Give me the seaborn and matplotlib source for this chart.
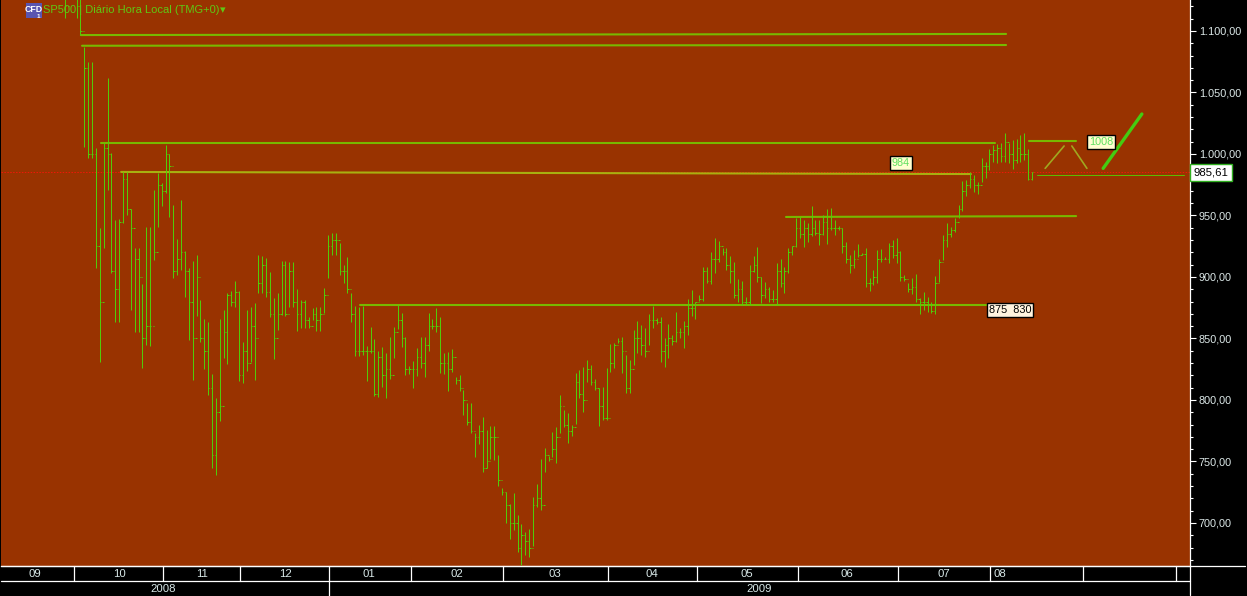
import matplotlib
matplotlib.use("Agg")
import matplotlib.pyplot as plt
from matplotlib.patches import Rectangle
from matplotlib.ticker import FixedLocator, FuncFormatter
import numpy as np
import pandas as pd
import seaborn as sns

highs = [
    1145,1150,1150,1140,1130,1087,1074.8,1074.8,1004.9,939.8,
    1008.9,1061.8,1000.8,946.3,947.2,985.4,985.4,955.3,923.6,923.6,
    894.3,940.7,940.7,970.7,984.6,976.4,1007.3,1000,958.5,930.9,
    962.6,921.1,907.3,913,917.9,881.3,865.9,863.4,821.1,801.6,
    865.9,873.2,887,888.6,896.7,888.6,847.2,873.2,875.6,878.9,
    917.9,917.1,915.4,904.1,882.9,887,913,913,912.2,912.2,
    890.2,881.3,881.3,867.5,874.8,875.6,875.6,891,934.1,935.8,
    935.8,927.6,909.8,916.3,887,876.4,875.6,876.4,843.9,859.4,
    849.6,839.8,843,838.2,851.2,859.4,877.2,870.7,851.2,827.6,
    831.7,842.3,851.2,851.2,870.7,865.9,874.8,867.5,838.2,839,
    841.5,818.7,820.3,808.1,797.6,797.6,773.2,779.7,786.2,775.6,
    778.9,778.9,755.3,728.5,725.2,715.5,724.4,706.5,699.2,692.7,
    695.1,721.1,731.7,752,761,754.5,774,778,804.1,791.9,
    789.4,779.7,821.9,824.4,826.8,832.5,828.5,817.1,809.8,810.6,
    826,845.5,846.3,850.4,851.2,836.6,832.5,856.9,864.2,861,
    858.5,869.9,876.4,866.7,867.5,850.4,861.8,852.8,871.5,858.5,
    864.2,882.1,889.4,879.7,885.4,908.1,908.1,920.3,931.7,929.3,
    923.6,923.6,917.1,912.2,898.4,896.7,883.7,909.8,917.1,924.4,
    900,895.9,891.9,889.4,911.4,914.6,908.1,923.6,925.2,948,
    948.8,946.3,943.9,957.7,946.3,946.3,950.4,955.3,956.1,946.3,
    941.5,939.8,928.5,917.9,922,926.8,919.5,923.6,899.2,905.7,
    922,922.8,916.3,927.6,930.1,931.7,921.1,901.6,895.1,899.2,
    902.4,882.9,887.8,883.7,879.7,900.8,914.6,934.1,943.9,940.7,
    948,958.5,978,978.9,985.4,982.9,977.2,996.7,993.5,1004.1,
    1007.3,1008.1,1008.9,1017.1,1008.9,1011.4,1012.2,1015.4,1017.1,1004.1,
    985.4,
]
lows = [
    1110.6,1135,1135,1110.6,1096.7,1005.7,996.7,996.7,907.3,830.9,
    923.6,970.7,903.3,863.4,863.4,943.9,950.4,873.2,855.3,855.3,
    826,844.7,843.9,913.8,940.7,957.7,968.3,948.8,899.2,901.6,
    905.7,883.7,848.8,816.3,868.3,847.2,825.2,804.1,744.7,739,
    782.9,834.1,829.3,876.4,875.6,815.4,813.8,823.6,830.9,816.3,
    887,887,883.7,867.5,833.3,856.9,869.1,868.3,875.6,875.6,
    856.1,858.5,858.5,858.5,865,856.1,856.1,870.7,899.2,917.9,
    917.9,901.6,895.1,887,863.4,835.8,835.8,836.6,815.4,838.2,
    803.3,802.4,810.6,801.6,817.1,834.1,857.7,843,820.3,821.1,
    809.8,819.5,826,818.7,839.8,857.7,855.3,822,821.1,807.3,
    822.8,813,807.3,787.8,779.7,773.2,753.7,764.2,741.5,744.7,
    752,751.2,730.1,722.8,700,687,694.3,676.4,665.9,674,
    672.4,681.3,713,710.6,741.5,750.4,753.7,748.8,773.2,778,
    765,770.7,780.5,801.6,790.2,814.6,812.2,808.1,778.9,783.7,
    783.7,822.8,826,846.3,822,805.7,805.7,828.5,838.2,836.6,
    835,844.7,858.5,861.8,830.9,826.8,834.1,844.7,847.2,850.4,
    842.3,852.8,868.3,865.9,880.5,880.5,895.1,894.3,903.3,912.2,
    917.9,905.7,895.1,882.9,879.7,877.2,877.2,877.2,904.1,895.9,
    878.9,882.9,879.7,879.7,877.2,891.9,887,903.3,917.9,924.4,
    931.7,924.4,928.5,933.3,934.1,926,934.1,926.8,938.2,934.1,
    938.2,919.5,911.4,903.3,907.3,916.3,917.9,891.9,888.6,893.5,
    895.1,912.2,914.6,911.4,915.4,911.4,896.7,896.7,887.8,886.2,
    879.7,869.9,873.2,871.5,870.7,869.9,895.9,913.8,924.4,932.5,
    936.6,948,953.7,965.9,972.4,969.1,967.5,977.2,980.5,987,
    993.5,992.7,993.5,993.5,992.7,987.8,992.7,993.5,995.1,978.9,
    978.9,
]
closes = [
    1120,1140,1140,1120,1100,1070,1000,1000,925,880,
    1005,1000,905,890,945,980,955,940,915,900,
    850,860,860,920,975,970,1000,990,905,915,
    920,905,880,850,900,850,840,810,755,790,
    795,855,885,880,888,820,840,830,860,850,
    895,910,888,870,850,870,910,870,905,880,
    870,880,865,860,870,865,870,885,925,930,
    930,905,905,890,870,840,840,840,840,840,
    805,835,820,825,820,855,865,850,825,825,
    825,835,830,845,860,860,860,830,830,825,
    835,816,810,800,782,775,770,775,745,750,
    770,770,735,725,715,700,700,680,690,685,
    680,715,720,715,755,752,760,770,795,780,
    775,778,815,805,800,825,815,810,795,785,
    785,830,845,848,840,810,825,850,850,845,
    840,865,865,863,840,845,850,848,855,855,
    860,875,875,880,882,905,897,915,915,925,
    920,910,905,885,890,880,880,905,910,900,
    885,890,882,882,905,895,905,920,925,940,
    935,940,935,940,936,935,945,940,940,940,
    940,925,915,910,915,918,919,895,895,900,
    915,915,915,925,918,920,900,898,890,892,
    882,880,880,878,872,895,912,930,935,938,
    945,955,970,975,980,975,975,990,990,1000,
    1003,1005,998,1010,1000,995,1005,1000,1000,980,
    985.6,
]

month_labels = ["09","10","11","12","01","02","03","04","05","06","07","08"]
month_label_days = [-7.8,14,35.4,56.9,78.6,101.3,126.7,151.8,176.3,202.2,227.2,241.7]
month_edges = [2.3,25.4,45.3,68.3,89.5,113.3,140.5,163.4,189.4,215.4,239.2,263.2,287.3]
year_labels = ["2008","2009"]
year_label_days = [25.3,179.4]
year_edge = 68.3

# (start day, start price, end day, end price)
support_lines = [
    (4.1,1096.7,243.3,1097.6),
    (4.4,1088.0,243.3,1088.6),
    (9.3,1009.0,240.4,1009.0),
    (14.5,985.4,234.2,983.7),
    (76.3,877.2,245.0,877.2),
    (186.4,948.8,261.4,949.5),
    (249.2,1010.6,261.4,1010.6),
]
last_price_line = (251.3,983.2,289.3,983.2)
thin_strokes = [(253.4,988.3,258.3,1006.5),(260.3,1006.5,264.2,988.3)]
thick_stroke = (268.4,988.3,278.4,1032.5)
last_price = 985.61

BG = "#993300"
BAR = "#4fd00a"
LEVEL = "#78b800"

sns.set_theme(style="dark", rc={"axes.facecolor": BG, "figure.facecolor": "black"})
plt.rcParams["font.family"] = ["Liberation Sans", "DejaVu Sans"]

fig = plt.figure(figsize=(12.47, 5.96), dpi=100)
ax = fig.add_axes([1/1247, 30/596, 1189/1247, 566/596])

days = np.arange(len(highs))
segs = pd.DataFrame({
    "day": np.repeat(days, 2),
    "price": np.column_stack([lows, highs]).ravel(),
})
sns.lineplot(data=segs, x="day", y="price", units="day", estimator=None, sort=False,
             color=BAR, lw=0.7, ax=ax, zorder=4, legend=False)
for ln in ax.lines:
    ln.set_snap(True)
    ln.set_solid_capstyle("butt")
ax.hlines(closes, days, days + 0.35, color=BAR, lw=0.7, zorder=4, snap=True)
ax.hlines(closes[:-1], days[1:] - 0.35, days[1:], color=BAR, lw=0.7, zorder=4, snap=True)

ax.axhline(last_price, color="#f01808", lw=0.7, ls=(0, (1.5, 1.5)), zorder=2, snap=True)
for i, (x0, y0, x1, y1) in enumerate(support_lines):
    col = "#a8b010" if i == 3 else LEVEL
    ax.plot([x0, x1], [y0, y1], color=col, lw=1.5, zorder=3)
ax.plot(last_price_line[::2], last_price_line[1::2], color="#5cc000", lw=0.7, zorder=3, snap=True)
for x0, y0, x1, y1 in thin_strokes:
    ax.plot([x0, x1], [y0, y1], color="#a0a820", lw=1.2, zorder=3)
ax.plot(thick_stroke[::2], thick_stroke[1::2], color="#44cc11", lw=2.4, zorder=3)

ax.set_xlim(-16.55, 290.85)
ax.set_ylim(665.0, 1125.2)
ax.set_xlabel(""); ax.set_ylabel("")
ax.set_xticks([])
ax.yaxis.tick_right()
ax.yaxis.set_major_locator(FixedLocator(np.arange(700, 1101, 50)))
ax.yaxis.set_minor_locator(FixedLocator(np.arange(670, 1125, 10)))
ax.yaxis.set_major_formatter(FuncFormatter(
    lambda v, _: f"{v:,.2f}".replace(",", "#").replace(".", ",").replace("#", ".")))
ax.tick_params(axis="y", which="major", length=4.2, width=0.8, color="white",
               labelcolor="#dce8e8", labelsize=7.8, pad=2.2, right=True)
ax.tick_params(axis="y", which="minor", length=2.2, width=0.8, color="white", right=True)
ax.grid(False)
for s in ("top", "left"):
    ax.spines[s].set_visible(False)
for s in ("right", "bottom"):
    ax.spines[s].set_color("white")
    ax.spines[s].set_linewidth(0.9)

# date strip underneath the plot
xt = ax.get_xaxis_transform()
H = 566.0
strip = dict(color="white", lw=0.9, transform=xt, clip_on=False)
ax.plot([-16.55, 290.85], [-15/H, -15/H], **strip)
ax.plot([-16.55, 305], [0, 0], **strip)
ax.plot([290.85, 290.85], [0, -29/H], **strip)
for d in month_edges:
    ax.plot([d, d], [0, -15/H], **strip)
ax.plot([year_edge, year_edge], [-15/H, -30/H], **strip)
for d, t in zip(month_label_days, month_labels):
    ax.text(d, -7.8/H, t, transform=xt, ha="center", va="center",
            color="#d8e8e8", fontsize=8.2, clip_on=False)
for d, t in zip(year_label_days, year_labels):
    ax.text(d, -23/H, t, transform=xt, ha="center", va="center",
            color="#d8e8e8", fontsize=8.2, clip_on=False)

# header
ax.text(-5.75, 1117, "SP500 | Diário Hora Local (TMG+0)", color="#5fc814", fontsize=8.0,
        ha="left", va="center", zorder=5)
ax.text(40.7, 1117.2, "▾", color="#5fc814", fontsize=8, ha="center", va="center",
        family=["DejaVu Sans"], zorder=5)
ax.add_patch(Rectangle((-10.2, 1110.6), 4.3, 12.2, fc="#5a55b0", ec="none", zorder=6))
ax.text(-8.0, 1117.5, "CFD", color="white", fontsize=6.3, fontweight="bold", ha="center", va="center",
        zorder=7)
ax.text(-6.8, 1111.8, "1", color="white", fontsize=4.5, fontweight="bold", ha="center", va="center",
        zorder=7)

# value tags
def tag(x, y, s, fc, tc, ec="black", fs=7.8, pad=0.2):
    ax.text(x, y, s, color=tc, fontsize=fs, ha="center", va="center", zorder=7, clip_on=False,
            bbox=dict(boxstyle=f"square,pad={pad}", fc=fc, ec=ec, lw=1.0))

tag(216.1, 992.7, "984", "#ffffd0", "#60e060")
tag(267.8, 1010.0, "1008", "#ffffd0", "#60e060")
tag(244.3, 873.0, "875  830", "#fff4e0", "black")
tag(296.3, 985.0, "985,61", "white", "black", ec="#30b020", fs=8.2, pad=0.3)

fig.savefig("out.png", dpi=100, facecolor="black")
